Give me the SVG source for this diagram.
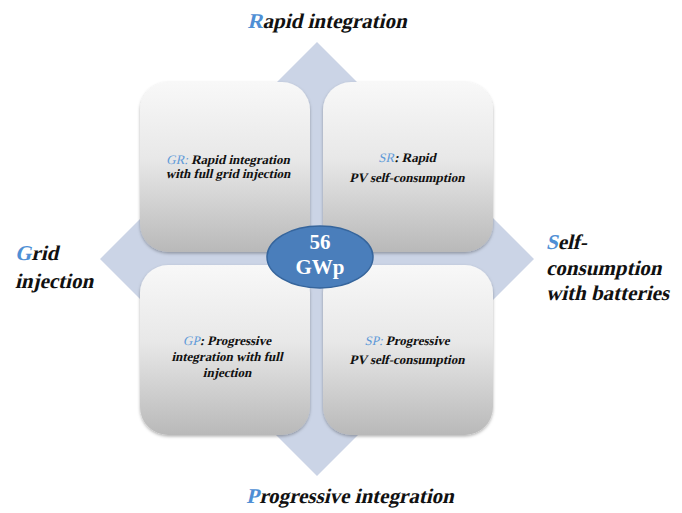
<svg xmlns="http://www.w3.org/2000/svg" width="682" height="513" viewBox="0 0 682 513">
  <defs>
    <linearGradient id="boxFill" x1="0" y1="0" x2="0" y2="1">
      <stop offset="0" stop-color="#f8f8f8"/>
      <stop offset="0.45" stop-color="#e8e8e8"/>
      <stop offset="1" stop-color="#b9b9b9"/>
    </linearGradient>
    <filter id="shadow" x="-10%" y="-10%" width="120%" height="125%">
      <feDropShadow dx="0" dy="1.5" stdDeviation="1.5" flood-color="#000" flood-opacity="0.3"/>
    </filter>
    <style>
      .box { fill: url(#boxFill); filter: url(#shadow); }
      /* slanted bold serif, sheared by hand */
      .title { font-family: "Liberation Serif", "Times New Roman", serif; font-weight: bold; font-size: 21px; fill: #111; }
      .lead { fill: #4f8fd5; }
      .body { font-family: "Liberation Serif", "Times New Roman", serif; font-weight: bold; font-size: 13px; fill: #111; text-anchor: middle; }
      .code { fill: #5f9ad8; font-weight: normal; }
      .hub { fill: #4a7ebb; stroke: #36659c; stroke-width: 1.5; }
      .hubText { font-family: "Liberation Serif", "Times New Roman", serif; font-weight: bold; font-size: 21px; fill: #fff; text-anchor: middle; }
    </style>
  </defs>

  <rect width="682" height="513" fill="#fff"/>

  <!-- four-way arrow behind the quadrants -->
  <g id="connectors">
    <polygon fill="#cbd4e6" points="317,42 392,117 339,117 339,237 459,237 459,184 534,259 459,334 459,281 339,281 339,401 392,401 317,476 242,401 295,401 295,281 175,281 175,334 100,259 175,184 175,237 295,237 295,117 242,117"/>
  </g>

  <!-- quadrant cards -->
  <g id="GR">
    <rect class="box" x="140" y="82" width="170" height="170" rx="28"/>
    <text class="body" transform="translate(228,164) skewX(-13)"><tspan class="code">GR:</tspan> Rapid integration</text>
    <text class="body" transform="translate(228,178) skewX(-13)">with full grid injection</text>
  </g>
  <g id="SR">
    <rect class="box" x="323" y="82" width="170" height="170" rx="28"/>
    <text class="body" transform="translate(407,162) skewX(-13)"><tspan class="code">SR</tspan>: Rapid</text>
    <text class="body" transform="translate(407,182) skewX(-13)">PV self-consumption</text>
  </g>
  <g id="GP">
    <rect class="box" x="140" y="265" width="170" height="170" rx="28"/>
    <text class="body" transform="translate(227,345) skewX(-13)"><tspan class="code">GP</tspan>: Progressive</text>
    <text class="body" transform="translate(227,361) skewX(-13)">integration with full</text>
    <text class="body" transform="translate(227,377) skewX(-13)">injection</text>
  </g>
  <g id="SP">
    <rect class="box" x="323" y="265" width="170" height="170" rx="28"/>
    <text class="body" transform="translate(407,345) skewX(-13)"><tspan class="code">SP:</tspan> Progressive</text>
    <text class="body" transform="translate(407,364) skewX(-13)">PV self-consumption</text>
  </g>

  <!-- centre capacity -->
  <g id="hub">
    <ellipse class="hub" cx="320" cy="257" rx="53" ry="31"/>
    <text class="hubText" x="320" y="249">56</text>
    <text class="hubText" x="320" y="274">GWp</text>
  </g>

  <!-- axis labels -->
  <g id="label-rapid">
    <text class="title" text-anchor="middle" transform="translate(327,28) skewX(-13)"><tspan class="lead">R</tspan>apid integration</text>
  </g>
  <g id="label-progressive">
    <text class="title" text-anchor="middle" transform="translate(350,503) skewX(-13)"><tspan class="lead">P</tspan>rogressive integration</text>
  </g>
  <g id="label-grid">
    <text class="title" transform="translate(15,260) skewX(-13)"><tspan class="lead">G</tspan>rid</text>
    <text class="title" transform="translate(15,288) skewX(-13)">injection</text>
  </g>
  <g id="label-self">
    <text class="title" transform="translate(546,249) skewX(-13)"><tspan class="lead">S</tspan>elf-</text>
    <text class="title" transform="translate(546,275) skewX(-13)">consumption</text>
    <text class="title" transform="translate(546,300) skewX(-13)">with batteries</text>
  </g>
</svg>
